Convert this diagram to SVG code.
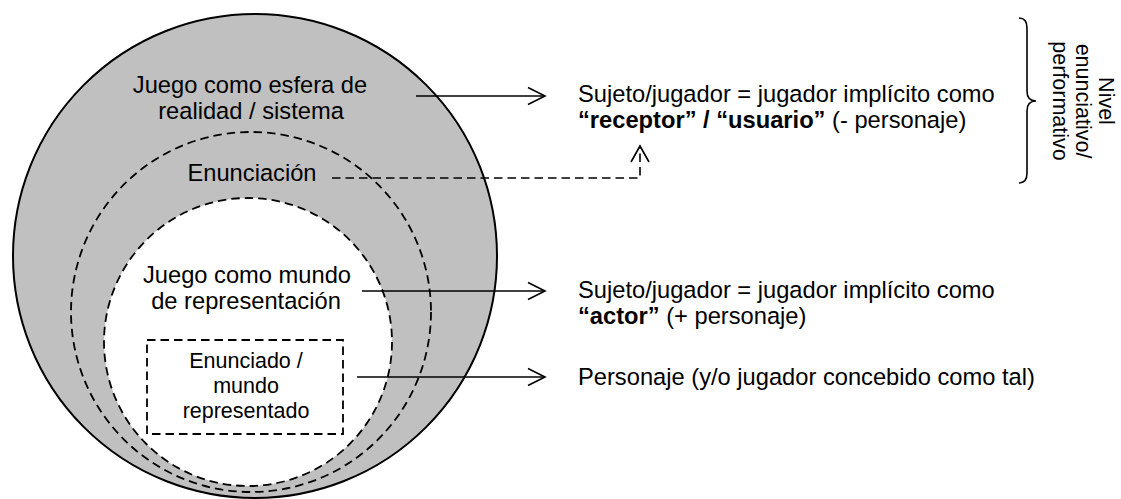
<svg xmlns="http://www.w3.org/2000/svg" width="1121" height="499" viewBox="0 0 1121 499">
<defs>
<style>
text{font-family:"Liberation Sans",Arial,sans-serif;fill:#000}
.t{font-size:23.7px}
.s{font-size:21.5px}
.m{text-anchor:middle}
.b{font-weight:bold}
.dash{fill:none;stroke:#000;stroke-width:1.8;stroke-dasharray:8.5 5}
.ln{fill:none;stroke:#000;stroke-width:1.6}
</style>
<marker id="ah" viewBox="0 0 20 20" refX="18" refY="10" markerWidth="20" markerHeight="20" markerUnits="userSpaceOnUse" orient="auto">
<path d="M1,1.5 L18,10 L1,18.5" fill="none" stroke="#000" stroke-width="1.6"/>
</marker>
</defs>
<rect width="1121" height="499" fill="#fff"/>
<g id="outer">
<circle cx="255" cy="256" r="242" fill="#c0c0c0" stroke="#000" stroke-width="2"/>
<text class="t m" x="250" y="93">Juego como esfera de</text>
<text class="t m" x="251" y="119">realidad / sistema</text>
</g>
<g id="enunciacion">
<circle class="dash" cx="251" cy="312" r="180"/>
<text class="t m" x="252" y="181">Enunciación</text>
</g>
<g id="mundo">
<circle cx="248" cy="342" r="144" fill="#fff"/>
<circle class="dash" cx="248" cy="342" r="144"/>
<text class="t m" x="247" y="283">Juego como mundo</text>
<text class="t m" x="246" y="309">de representación</text>
</g>
<g id="enunciado">
<rect class="dash" x="147" y="340" width="196" height="94"/>
<text class="s m" x="246" y="368">Enunciado /</text>
<text class="s m" x="246" y="393">mundo</text>
<text class="s m" x="246" y="418">representado</text>
</g>
<g id="receptor">
<text class="t" x="578" y="102">Sujeto/jugador = jugador implícito como</text>
<text class="t" x="578" y="128"><tspan class="b">“receptor” / “usuario”</tspan> (- personaje)</text>
</g>
<g id="actor">
<text class="t" x="578" y="298">Sujeto/jugador = jugador implícito como</text>
<text class="t" x="578" y="324"><tspan class="b">“actor”</tspan> (+ personaje)</text>
</g>
<g id="personaje">
<text class="t" x="578" y="385">Personaje (y/o jugador concebido como tal)</text>
</g>
<g id="nivel">
<path class="ln" d="M1019,18 Q1027,18 1027,28 L1027,91 Q1027,101 1036,101 Q1027,101 1027,111 L1027,173 Q1027,183 1019,183"/>
<g transform="translate(1099,101) rotate(90)">
<text class="s m" x="0" y="0">Nivel</text>
<text class="s m" x="0" y="23">enunciativo/</text>
<text class="s m" x="0" y="46">performativo</text>
</g>
</g>
<g id="connectors">
<line class="ln" x1="416" y1="96" x2="545" y2="96" marker-end="url(#ah)"/>
<line class="ln" x1="362" y1="291" x2="545" y2="291" marker-end="url(#ah)"/>
<line class="ln" x1="357" y1="377" x2="545" y2="377" marker-end="url(#ah)"/>
<path class="dash" d="M332,178 H640 V148" style="stroke-width:1.6"/>
<path class="ln" d="M631,162 L640,146 L649,162"/>
</g>
</svg>
